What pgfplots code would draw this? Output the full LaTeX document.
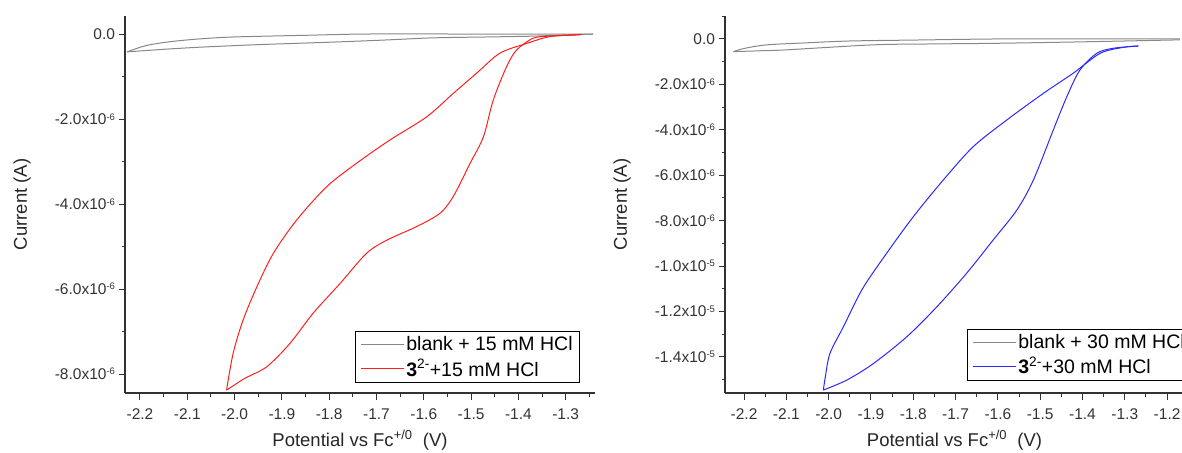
\documentclass[border=0pt]{standalone}
\usepackage{fontspec}
\setmainfont{Liberation Sans}
\usepackage{pgfplots}
\pgfplotsset{compat=1.18}
\definecolor{blankgray}{RGB}{135,135,135}
\definecolor{axgray}{RGB}{50,50,50}
\definecolor{cvred}{RGB}{255,30,30}
\definecolor{cvblue}{RGB}{40,40,255}
\newcommand{\ex}[1]{x10\raisebox{0.55ex}{\fontsize{9.5}{10}\selectfont #1}}
\pgfplotsset{
  cvstyle/.style={
    scale only axis,
    width=470pt, height=377pt,
    axis lines=left,
    axis line style={-, line width=1.1pt, color=axgray},
    tick align=outside,
    major tick length=6.5pt,
    minor tick length=3.5pt,
    every tick/.style={line width=1pt, color=axgray},
    tick label style={font=\fontsize{15.5}{17}\selectfont, color=black!80},
    xticklabel style={yshift=-6pt},
    label style={font=\fontsize{18.5}{20}\selectfont, color=black!85},
    xlabel={Potential vs Fc\textsuperscript{+/0}~~(V)},
    ylabel={Current (A)},
    xlabel style={at={(axis description cs:0.5,-0.125)}, anchor=center},
    ylabel style={at={(axis description cs:-0.219,0.5)}, anchor=center},
    legend style={draw=black, line width=1pt, font=\fontsize{19.5}{21}\selectfont,
      inner xsep=5pt, inner ysep=3pt, row sep=3pt},
    legend cell align=left,
    legend image code/.code={\draw[##1, line width=1pt] (0pt,0pt) -- (43pt,0pt);},
    clip=false,
  }
}
\begin{document}
\begin{tikzpicture}
\begin{axis}[cvstyle,
  at={(125pt,59pt)}, anchor=south west,
  xmin=-2.2317, xmax=-1.238,
  ymin=-8.447, ymax=0.424,
  xtick={-2.2,-2.1,-2.0,-1.9,-1.8,-1.7,-1.6,-1.5,-1.4,-1.3},
  xticklabels={-2.2,-2.1,-2.0,-1.9,-1.8,-1.7,-1.6,-1.5,-1.4,-1.3},
  minor xtick={-2.15,-2.05,-1.95,-1.85,-1.75,-1.65,-1.55,-1.45,-1.35,-1.25},
  ytick={-8,-6,-4,-2,0},
  yticklabels={-8.0\ex{-6},-6.0\ex{-6},-4.0\ex{-6},-2.0\ex{-6},0.0},
  minor ytick={-7,-5,-3,-1},
  legend style={at={(axis description cs:0.489,0.0265)}, anchor=south west},
]
\addplot[draw=blankgray, line width=1pt, smooth] coordinates {
(-1.242,0.0) (-1.50,0.0) (-1.72,0.0) (-1.85,-0.03) (-2.003,-0.07) (-2.08,-0.12) (-2.143,-0.19) (-2.19,-0.28) (-2.227,-0.42)
};
\addlegendentry{blank + 15 mM HCl}
\addplot[draw=blankgray, line width=1pt, smooth, forget plot] coordinates {
(-2.227,-0.42) (-2.15,-0.36) (-2.073,-0.31) (-1.95,-0.25) (-1.792,-0.19) (-1.68,-0.14) (-1.58,-0.09) (-1.47,-0.07) (-1.369,-0.05) (-1.30,-0.02) (-1.242,0.0)
};
\addplot[draw=cvred, line width=1pt, smooth] coordinates {
(-1.265,-0.01) (-1.30,-0.03) (-1.335,-0.05) (-1.369,-0.10) (-1.404,-0.38) (-1.425,-0.77) (-1.453,-1.55) (-1.474,-2.42) (-1.502,-3.04) (-1.538,-3.83) (-1.566,-4.22) (-1.615,-4.53) (-1.678,-4.85) (-1.721,-5.16) (-1.777,-5.87) (-1.834,-6.57) (-1.883,-7.28) (-1.932,-7.83) (-1.978,-8.10) (-2.017,-8.38)
};
\addlegendentry{\textbf{3}\textsuperscript{2-}+15 mM HCl}
\addplot[draw=cvred, line width=1pt, smooth, forget plot] coordinates {
(-2.017,-8.38) (-2.003,-7.51) (-1.982,-6.73) (-1.953,-5.95) (-1.918,-5.16) (-1.869,-4.38) (-1.805,-3.59) (-1.742,-3.04) (-1.671,-2.49) (-1.594,-1.95) (-1.538,-1.40) (-1.488,-0.92) (-1.439,-0.45) (-1.382,-0.22) (-1.333,-0.06) (-1.270,-0.02)
};
\end{axis}
\begin{axis}[cvstyle,
  width=459pt,
  at={(725pt,59pt)}, anchor=south west,
  xmin=-2.245, xmax=-1.160,
  ymin=-15.59, ymax=1.01,
  xtick={-2.2,-2.1,-2.0,-1.9,-1.8,-1.7,-1.6,-1.5,-1.4,-1.3,-1.2},
  xticklabels={-2.2,-2.1,-2.0,-1.9,-1.8,-1.7,-1.6,-1.5,-1.4,-1.3,-1.2},
  minor xtick={-2.15,-2.05,-1.95,-1.85,-1.75,-1.65,-1.55,-1.45,-1.35,-1.25},
  ytick={-14,-12,-10,-8,-6,-4,-2,0},
  yticklabels={-1.4\ex{-5},-1.2\ex{-5},-1.0\ex{-5},-8.0\ex{-6},-6.0\ex{-6},-4.0\ex{-6},-2.0\ex{-6},0.0},
  minor ytick={-15,-13,-11,-9,-7,-5,-3,-1,1},
  ylabel style={at={(axis description cs:-0.224,0.5)}, anchor=center},
  legend style={at={(axis description cs:0.527,0.032)}, anchor=south west},
]
\addplot[draw=blankgray, line width=1pt, smooth] coordinates {
(-1.17,0.0) (-1.40,0.0) (-1.595,0.0) (-1.80,-0.05) (-1.949,-0.09) (-2.05,-0.17) (-2.146,-0.26) (-2.20,-0.42) (-2.225,-0.56)
};
\addlegendentry{blank + 30 mM HCl}
\addplot[draw=blankgray, line width=1pt, smooth, forget plot] coordinates {
(-2.225,-0.56) (-2.16,-0.52) (-2.099,-0.48) (-1.894,-0.26) (-1.75,-0.22) (-1.595,-0.19) (-1.406,-0.13) (-1.169,-0.04)
};
\addplot[draw=cvblue, line width=1pt, smooth] coordinates {
(-1.268,-0.31) (-1.327,-0.41) (-1.366,-0.63) (-1.406,-1.37) (-1.437,-2.54) (-1.469,-4.01) (-1.516,-6.21) (-1.555,-7.53) (-1.611,-8.85) (-1.674,-10.32) (-1.744,-11.79) (-1.815,-13.11) (-1.894,-14.29) (-1.957,-15.02) (-2.0125,-15.46)
};
\addlegendentry{\textbf{3}\textsuperscript{2-}+30 mM HCl}
\addplot[draw=cvblue, line width=1pt, smooth, forget plot] coordinates {
(-2.0125,-15.46) (-2.008,-14.9) (-1.997,-13.85) (-1.965,-12.67) (-1.920,-11.0) (-1.863,-9.44) (-1.800,-7.83) (-1.729,-6.21) (-1.658,-4.74) (-1.579,-3.57) (-1.492,-2.39) (-1.422,-1.51) (-1.358,-0.63) (-1.303,-0.37) (-1.268,-0.31)
};
\end{axis}
\pgfresetboundingbox
\path[use as bounding box] (0,0) rectangle (1182pt,452pt);
\end{tikzpicture}
\end{document}
